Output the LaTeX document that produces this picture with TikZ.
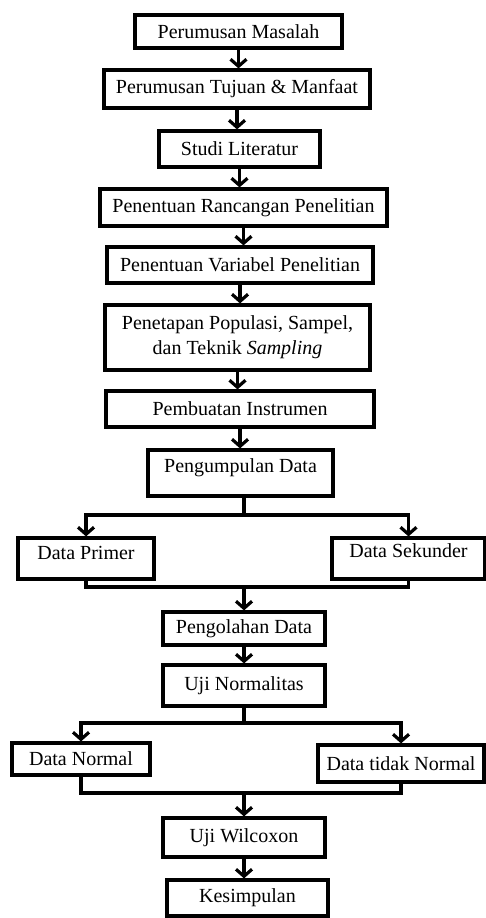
\documentclass[tikz,border=0pt]{standalone}
\usepackage{fontspec}
\setmainfont{Liberation Serif}
\usetikzlibrary{arrows.meta}
\begin{document}
\begin{tikzpicture}[x=1pt,y=-1pt,
  box/.style={draw=black, line width=3.2pt, fill=white, inner sep=2pt, align=center,
    font=\fontsize{20}{25}\selectfont},
  conn/.style={line width=3.2pt, line join=miter},
  arr/.style={conn, -{Straight Barb[length=7pt,width=16pt,line width=3.2pt]}}]
\useasboundingbox (0,0) rectangle (486,918);
\node[box, minimum width=207pt, minimum height=33pt] (n1) at (238.5,31.5) {Perumusan Masalah};
\node[box, minimum width=266pt, minimum height=38pt] (n2) at (237,89) {Perumusan Tujuan \& Manfaat};
\node[box, minimum width=161pt, minimum height=36pt] (n3) at (239.5,149) {Studi Literatur};
\node[box, minimum width=287pt, minimum height=37pt] (n4) at (243.5,207.5) {Penentuan Rancangan Penelitian};
\node[box, minimum width=266pt, minimum height=36pt] (n5) at (240,265) {Penentuan Variabel Penelitian};
\node[box, minimum width=265pt, minimum height=65pt] (n6) at (237.5,337.5) {Penetapan Populasi, Sampel,\\ dan Teknik \textit{Sampling}};
\node[box, minimum width=268pt, minimum height=36pt] (n7) at (240,409) {Pembuatan Instrumen};
\node[box, minimum width=185pt, minimum height=46pt, text depth=14pt] (n8) at (240.5,473) {Pengumpulan Data};
\node[box, minimum width=136pt, minimum height=41pt, text depth=12pt] (n9) at (86,558.5) {Data Primer};
\node[box, minimum width=153pt, minimum height=41pt, text depth=16pt] (n10) at (408.5,558.5) {Data Sekunder};
\node[box, minimum width=162pt, minimum height=33pt] (n11) at (244,628.5) {Pengolahan Data};
\node[box, minimum width=162pt, minimum height=41pt] (n12) at (244,685.5) {Uji Normalitas};
\node[box, minimum width=138pt, minimum height=32pt] (n13) at (81,759) {Data Normal};
\node[box, minimum width=166pt, minimum height=37pt] (n14) at (401,763.5) {Data tidak Normal};
\node[box, minimum width=162pt, minimum height=39pt] (n15) at (244,837.5) {Uji Wilcoxon};
\node[box, minimum width=161pt, minimum height=36pt] (n16) at (247.5,898) {Kesimpulan};

\foreach \a/\b in {n1/n2,n2/n3,n3/n4,n4/n5,n5/n6,n6/n7,n7/n8,n11/n12,n15/n16}
  \draw[arr] (\a.south) -- (\a.south |- \b.north);

\coordinate (b1) at (244,515);
\coordinate (m1) at (244,587);
\coordinate (b2) at (244,723);
\coordinate (m2) at (244,793);

\draw[conn] (n8.south -| b1) -- (b1);
\draw[arr] (b1) -| (n9.north);
\draw[arr] (b1) -| (n10.north);
\draw[conn] (n9.south) |- (m1) -| (n10.south);
\draw[arr] (m1) -- (m1 |- n11.north);

\draw[conn] (n12.south) -- (b2);
\draw[arr] (b2) -| (n13.north);
\draw[arr] (b2) -| (n14.north);
\draw[conn] (n13.south) |- (m2) -| (n14.south);
\draw[arr] (m2) -- (m2 |- n15.north);
\end{tikzpicture}
\end{document}
